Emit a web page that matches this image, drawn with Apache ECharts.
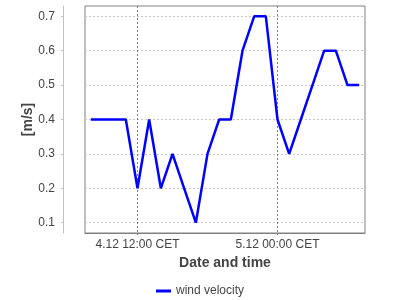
<!DOCTYPE html>
<html><head><meta charset="utf-8">
<script src="https://cdn.jsdelivr.net/npm/echarts@6/dist/echarts.min.js"></script>
<style>html,body{margin:0;padding:0;background:#fff}#c{width:400px;height:300px}</style>
</head><body><div id="c"></div>
<script>
// hours since 4.12 00:00 CET
const hours = [8,9,10,11,12,13,14,15,16,17,18,19,20,21,22,23,24,25,26,27,28,29,30,31];
const windVelocity = [0.4,0.4,0.4,0.4,0.2,0.4,0.2,0.3,0.2,0.1,0.3,0.4,0.4,0.6,0.7,0.7,0.4,0.3,0.4,0.5,0.6,0.6,0.5,0.5];
const tickHours = [12, 24];
const tickLabels = ['4.12 12:00 CET', '5.12 00:00 CET'];
const yTicks = [0.1,0.2,0.3,0.4,0.5,0.6,0.7];

const font = 'Liberation Sans, Arial, sans-serif';
const chart = echarts.init(document.getElementById('c'), null, {renderer:'canvas'});
chart.setOption({
  animation:false,
  grid:{left:85,right:35,top:6,bottom:67,show:true,borderColor:'#808080',borderWidth:1,backgroundColor:'transparent'},
  xAxis:{
    type:'value', min:7.5, max:31.5,
    name:'Date and time', nameLocation:'middle', nameGap:23,
    nameTextStyle:{fontFamily:font,fontSize:14,fontWeight:'bold',color:'#444'},
    axisLine:{show:true,lineStyle:{color:'#808080'}},
    axisTick:{show:true,length:2,customValues:tickHours,lineStyle:{color:'#808080'}},
    axisLabel:{customValues:tickHours,margin:6,fontFamily:font,fontSize:12,color:'#444',
      formatter:v=>{const i=tickHours.indexOf(v);return i>=0?tickLabels[i]:'';}},
    splitLine:{show:true,lineStyle:{color:'#808080',type:[2,2],width:1}}
  },
  yAxis:{
    type:'value', min:0.07, max:0.73, offset:22,
    name:'[m/s]', nameLocation:'middle', nameGap:28, nameMoveOverlap:false,
    nameTextStyle:{fontFamily:font,fontSize:14,fontWeight:'bold',color:'#444'},
    axisLine:{show:true,lineStyle:{color:'#c0c0c0'}},
    axisTick:{show:true,length:2,customValues:yTicks,lineStyle:{color:'#c0c0c0'}},
    axisLabel:{customValues:yTicks,margin:8,fontFamily:font,fontSize:12,color:'#444',formatter:v=>v.toFixed(1)},
    splitLine:{show:true,lineStyle:{color:'#c8c8c8',type:[2,2],width:1}}
  },
  legend:{
    bottom:-2,left:'center',itemWidth:15,itemHeight:3,icon:'rect',itemGap:10,
    textStyle:{fontFamily:font,fontSize:12,color:'#444'},
    data:['wind velocity']
  },
  series:[{
    name:'wind velocity', type:'line',
    data:hours.map((h,i)=>[h,windVelocity[i]]),
    showSymbol:false, symbol:'none',
    lineStyle:{color:'#0000ff',width:2.5},
    itemStyle:{color:'#0000ff'}
  }]
});
</script></body></html>
